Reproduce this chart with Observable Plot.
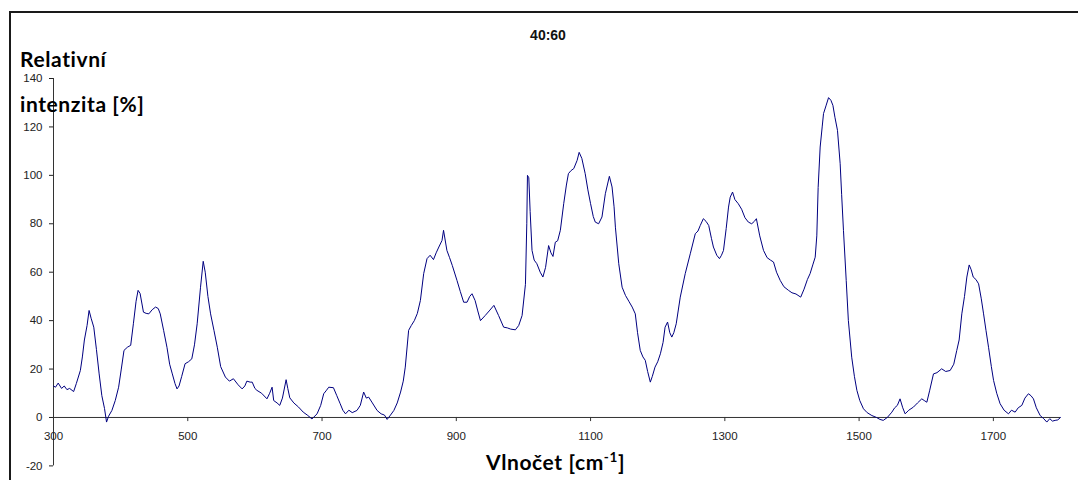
<!DOCTYPE html>
<html>
<head>
<meta charset="utf-8">
<script src="https://cdn.jsdelivr.net/npm/d3@7"></script>
<script src="https://cdn.jsdelivr.net/npm/@observablehq/plot@0.6"></script>
<style>
  html, body { margin: 0; padding: 0; background: #fff; }
  #wrap { position: relative; width: 1078px; height: 480px; overflow: hidden; }
  #frame { position: absolute; left: 9px; top: 11px; width: 1200px; height: 600px; border-top: 2px solid #1a1a1a; border-left: 2px solid #1a1a1a; box-sizing: border-box; }
</style>
</head>
<body>
<div id="wrap"><div id="frame"></div></div>
<script>
const title = "40:60";
const yTitle1 = "Relativní";
const yTitle2 = "intenzita [%]";
const xTitle = "Vlnočet [cm";
const xTitleSup = "-1";
const xTicks = [300, 500, 700, 900, 1100, 1300, 1500, 1700];
const yTicks = [-20, 0, 20, 40, 60, 80, 100, 120, 140];

const wavenumber = [300,303,307,312,316,320,324,330,334,340,343,346,350,353,356,360,364,368,372,376,379,382,387,392,397,401,405,410,415,419,423,426,429,434,438,442,447,452,456,459,464,469,473,477,481,484,487,491,496,501,506,510,514,519,523,526,530,534,539,544,549,556,562,568,575,581,585,588,593,596,600,603,610,618,622,625.6,628,633,637,641,646.5,649,652,658,665,672,678,685,692.6,698,702.5,706,710,717,722,727,731,735,740,745,752,757,762,766,769.5,775,782,788,793,797,802,807,812,817,821,824,829,833,837.5,842,846.5,851.4,856.4,861,866,870,874,878.7,881,886,890,894,901,906,911,916,920,923.4,928,932,936,943,949,956,963,970.5,976,981,988,993,998,1003,1005,1006,1008,1010,1012.8,1016,1020,1025,1029,1033,1037.5,1041,1044,1047.5,1051,1055,1060,1064,1067,1071,1075,1080,1083,1087,1092,1096,1100,1104,1107,1112,1117,1122,1128,1132,1135,1137,1142,1147,1152,1157,1162,1166.6,1170,1174,1178,1181.5,1185,1189,1192,1196,1200,1204,1208,1211,1214.7,1218,1221,1224,1227.6,1233.6,1241,1248.5,1256,1260,1263.4,1268,1272,1276,1280,1283,1288,1292,1295,1298,1302,1305.5,1308,1311.5,1315,1320,1325,1330,1335,1340,1344,1347,1352,1357.6,1363,1368,1372.5,1377,1382.5,1388,1394.8,1400,1406,1413,1418,1423,1427,1431,1434.6,1437,1439,1442,1445,1447,1451,1454.5,1458,1461,1464,1467.8,1471.8,1474,1476.7,1480.8,1484,1489,1493,1496.7,1501,1506.5,1512,1519,1526,1531,1536,1542,1548.8,1553,1557,1561,1565,1568.6,1574,1581,1587,1593.4,1597,1600.9,1605,1610.8,1616,1623,1629,1635.6,1641,1645.5,1649,1653,1657,1660.5,1664,1667,1670,1674,1678,1682,1685.4,1689,1692.8,1697,1700.3,1705,1710,1716,1722.5,1727,1732.4,1737,1742.4,1747,1752.2,1756,1759.7,1764,1769.7,1775,1779.6,1784,1788,1792,1796,1800];
const intensity = [13,12.5,14.2,12,13,11.5,12,10.7,14,19.4,25,32,38,44.2,41,37.3,28,18,9,3.7,-1.9,0.5,2.9,7,12.5,20,27.7,29,29.8,38.7,48,52.5,51.2,43.5,43,42.8,44.5,45.6,45,42.8,36,29,22,18,14,11.8,13,17,22.2,23,24.2,30,38.7,53.8,64.5,60,50,42.8,36,29,21,16.7,15,16,13.5,11.8,13,15,14.6,14.6,12,11.2,10,7.7,10,12.5,7,6,5,8,15.6,12,8.1,6,4.3,2.2,1,-0.6,1.5,5,9.8,11,12.5,12.3,9,5.7,3,1.5,3,2,2.9,5,10.5,8,8.4,6,2.9,1.5,1,-0.8,1,2.9,6,10.5,15,20.8,36,38,40,43,48.3,59.4,65.6,67,65.2,68,70.4,73.1,77.3,69,66,62.8,56.6,52,47.6,47.6,50,51.1,48.3,44,40,42.1,44,46.3,42.1,37.3,37,36.5,36.2,38,42.1,55,80,100,99,85,69,65,63.5,60,58,62,71,68,66.5,72.4,73,77.3,88.3,96,100.7,102,102.8,106.2,109.5,107,100.7,94,88.3,83,80.7,80,82.8,92.4,99.6,95.2,87,78.6,63.5,53.8,50.4,48,45.6,42.8,35,27.7,25,23.6,19,14.6,17,20.8,23,26.3,31,37.3,39.4,35,33.2,35,38.7,49.7,59.4,67.6,75.9,77,79.3,82.1,81,79.3,74,70.4,67,65.6,67,69,78,86.9,91,93.1,90,88.3,86,82.5,80.7,80,81,82.1,75,69,66,65,64.2,60,56.6,54,52.5,51.5,51,49.7,53,57,59.4,63,66.2,75,95,111.7,120,125.5,129,132.1,131,128.9,124,118.6,104.8,92,77.3,56.6,40.1,24.9,17,11.2,7,3.6,2,0.8,0,-0.8,-1.2,0,2.2,4,5,7.7,4,1.5,3,4.3,6,7.7,7,6.3,11,18,18.5,20.1,19,19.4,22,27.7,32,42.8,50,58,63,61,58,57,55.2,49,42.8,36,29,21,15.3,10,5.7,3,1.5,3,2.2,4,5,8,9.8,9,7.7,4,0.8,-0.5,-1.9,-0.5,-1.5,-1.2,-1,0];

const data = wavenumber.map((w, i) => ({w, v: intensity[i]}));

const chart = Plot.plot({
  width: 1078,
  height: 480,
  marginLeft: 53,
  marginRight: 18,
  marginTop: 78,
  marginBottom: 14.6,
  style: {fontFamily: "'Liberation Sans', Arial, sans-serif", background: "transparent", overflow: "visible", color: "#222"},
  x: {domain: [300, 1800], axis: null},
  y: {domain: [-20, 140], axis: null},
  marks: [
    Plot.axisY({ticks: yTicks, tickSize: 4, tickPadding: 7, label: null, fontSize: 11.5, tickFormat: d => String(d)}),
    Plot.ruleX([300], {y1: -20, y2: 140, stroke: "#333"}),
    Plot.ruleY([0], {x1: 300, x2: 1800, stroke: "#333"}),
    Plot.ruleX(xTicks, {x: d => d, y1: 0, y2: -1.7, stroke: "#333"}),
    Plot.text(xTicks, {x: d => d, y: 0, dy: 19, text: d => String(d), fontSize: 11.5, fill: "#222"}),
    Plot.line(data, {x: "w", y: "v", stroke: "#000080", strokeWidth: 1})
  ]
});
chart.style.position = "absolute";
chart.style.left = "0px";
chart.style.top = "0px";
document.getElementById("wrap").appendChild(chart);

const svg = d3.select(chart);
svg.append("text").attr("x", 548).attr("y", 40).attr("text-anchor", "middle")
  .attr("font-family", "'Liberation Sans', Arial, sans-serif").attr("font-weight", "bold").attr("font-size", 14).attr("fill", "#111").text(title);
const bigFont = (sel, size) => sel.attr("text-anchor", "start").attr("font-family", "Lato, 'Open Sans', sans-serif")
  .attr("font-weight", "bold").attr("font-size", size).attr("letter-spacing", "0.6px").attr("fill", "#000");
bigFont(svg.append("text").attr("x", 20).attr("y", 67), 21).text(yTitle1);
bigFont(svg.append("text").attr("x", 20).attr("y", 112), 21).text(yTitle2);
const xt = bigFont(svg.append("text").attr("x", 486).attr("y", 470), 21);
xt.append("tspan").text(xTitle);
xt.append("tspan").attr("font-size", 13.5).attr("dy", -8).text(xTitleSup);
xt.append("tspan").attr("dy", 8).text("]");
</script>
</body>
</html>
